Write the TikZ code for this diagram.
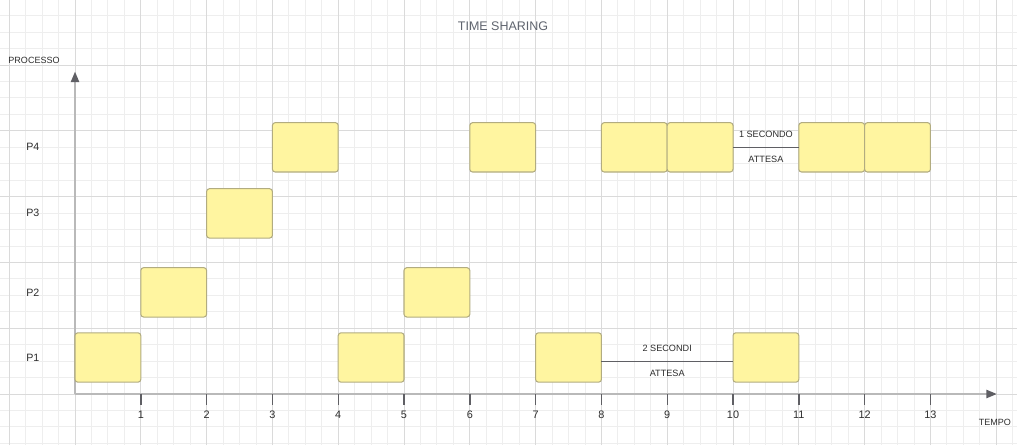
\documentclass[tikz,border=0pt]{standalone}
\usepackage{fontspec}
\setmainfont{Liberation Sans}
\usetikzlibrary{arrows.meta, positioning}
\definecolor{gridminor}{RGB}{238,238,238}
\definecolor{gridmajor}{RGB}{218,218,218}
\definecolor{axisgrey}{RGB}{185,185,185}
\definecolor{tickgrey}{RGB}{95,95,100}
\definecolor{boxfill}{RGB}{255,245,160}
\definecolor{boxline}{RGB}{178,172,128}
\definecolor{titlegrey}{RGB}{95,100,110}
\definecolor{textdark}{RGB}{45,45,45}

\begin{document}
\begin{tikzpicture}[
    box/.style={rectangle, draw=boxline, line width=0.45pt, rounded corners=1.2pt, fill=boxfill,
                minimum width=1cm, minimum height=0.75cm, inner sep=0pt, outer sep=0pt, anchor=south west},
    axis/.style={-{Triangle[length=4.5pt, width=3.5pt, color=tickgrey]}, line width=0.8pt, axisgrey},
    tickline/.style={line width=0.6pt, tickgrey},
    wait/.style={line width=0.5pt, tickgrey},
    num/.style={font=\fontsize{4.7}{5}\selectfont, text=textdark, inner sep=0pt},
    proc/.style={font=\fontsize{4.6}{5}\selectfont, text=textdark, inner sep=0pt},
    note/.style={font=\fontsize{3.95}{4.5}\selectfont, text=textdark, inner sep=0pt},
    axisname/.style={font=\fontsize{3.9}{4.5}\selectfont, text=textdark, inner sep=0pt}
]
\useasboundingbox (-1.14,-0.775) rectangle (14.316,5.988);
\fill[white] (-1.14,-0.775) rectangle (14.316,5.988);
\draw[gridminor, line width=0.4pt, step=0.25] (-1.14,-0.775) grid (14.316,5.988);
\draw[gridmajor, line width=0.4pt, step=1] (-1.14,-0.775) grid (14.316,5.988);

\node[font=\fontsize{5.4}{6}\selectfont, text=titlegrey, inner sep=0pt] (title) at (6.505,5.593) {TIME SHARING};
\node[axisname] (yname) at (-0.623,5.076) {PROCESSO};
\node[axisname] (xname) at (13.98,-0.43) {TEMPO};

\coordinate (o) at (0,0);
\coordinate (xend) at (14.01,0);
\coordinate (yend) at (0,4.9);
\draw[axis] (o) -- (xend);
\draw[axis] (o) -- (yend);

\foreach \t in {1,...,13} {
    \coordinate (t\t) at (\t,0);
    \draw[tickline] (t\t) -- ++(0,-0.17);
    \node[num] (n\t) at (\t,-0.31) {\t};
}

\node[proc] (l1) at (-0.64,0.555) {P1};
\node[proc] (l2) at (-0.64,1.545) {P2};
\node[proc] (l3) at (-0.64,2.75) {P3};
\node[proc] (l4) at (-0.64,3.75) {P4};

\node[box] (p1a) at (0,0.18) {};
\node[box] (p1b) at (4,0.18) {};
\node[box] (p1c) at (7,0.18) {};
\node[box] (p1d) at (10,0.18) {};

\node[box] (p2a) at (1,1.17) {};
\node[box] (p2b) at (5,1.17) {};

\node[box] (p3a) at (2,2.37) {};

\node[box] (p4a) at (3,3.374) {};
\node[box] (p4b) at (6,3.374) {};
\node[box] (p4c) at (8,3.374) {};
\node[box] (p4d) at (9,3.374) {};
\node[box] (p4e) at (11,3.374) {};
\node[box] (p4f) at (12,3.374) {};

\draw[wait] ([yshift=-0.065cm]p1c.east) -- ([yshift=-0.065cm]p1d.west)
    node[note, midway, yshift=0.2cm] (w1top) {2 SECONDI}
    node[note, midway, yshift=-0.17cm] (w1bot) {ATTESA};
\draw[wait] (p4d.east) -- (p4e.west)
    node[note, midway, yshift=0.2cm] (w4top) {1 SECONDO}
    node[note, midway, yshift=-0.18cm] (w4bot) {ATTESA};
\end{tikzpicture}
\end{document}
